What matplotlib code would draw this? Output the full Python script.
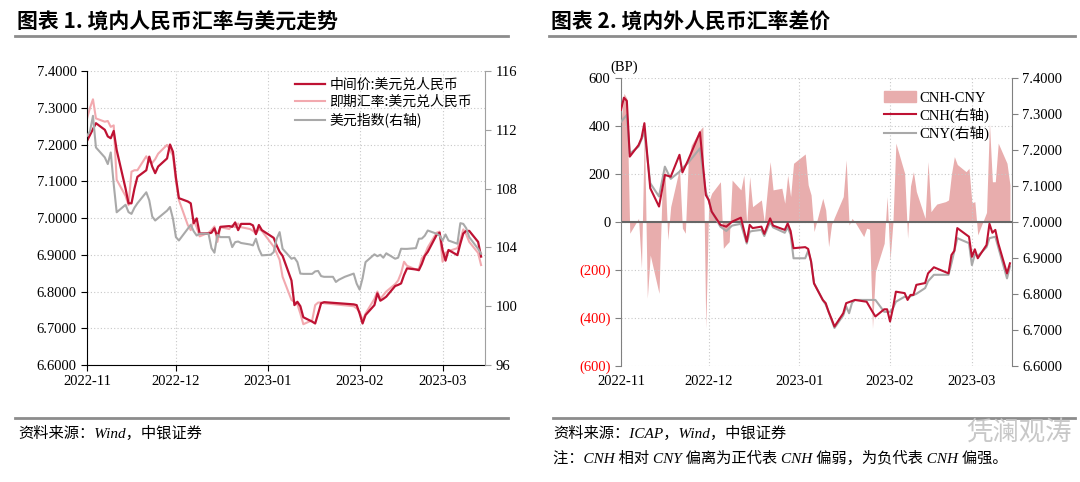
import pandas as pd
import matplotlib
matplotlib.use("Agg")
import matplotlib.pyplot as plt
import matplotlib.dates as mdates
from matplotlib.lines import Line2D
from matplotlib.patches import Patch

plt.rcParams['font.family'] = ['Liberation Serif', 'Noto Sans CJK SC']
plt.rcParams['axes.unicode_minus'] = False

# ---------- 图表1 数据 ----------
mid_dates = ["2022-11-01", "2022-11-04", "2022-11-07", "2022-11-08", "2022-11-09", "2022-11-10",
             "2022-11-11", "2022-11-14", "2022-11-15", "2022-11-16", "2022-11-17", "2022-11-18",
             "2022-11-21", "2022-11-22", "2022-11-23", "2022-11-24", "2022-11-25", "2022-11-28",
             "2022-11-29", "2022-11-30", "2022-12-01", "2022-12-02", "2022-12-05", "2022-12-06",
             "2022-12-07", "2022-12-08", "2022-12-09", "2022-12-12", "2022-12-13", "2022-12-14",
             "2022-12-15", "2022-12-16", "2022-12-19", "2022-12-20", "2022-12-21", "2022-12-22",
             "2022-12-23", "2022-12-26", "2022-12-27", "2022-12-28", "2022-12-29", "2022-12-30",
             "2023-01-03", "2023-01-04", "2023-01-05", "2023-01-06", "2023-01-09", "2023-01-10",
             "2023-01-11", "2023-01-12", "2023-01-13", "2023-01-16", "2023-01-17", "2023-01-18",
             "2023-01-19", "2023-01-20", "2023-01-30", "2023-01-31", "2023-02-01", "2023-02-02",
             "2023-02-03", "2023-02-06", "2023-02-07", "2023-02-08", "2023-02-09", "2023-02-10",
             "2023-02-13", "2023-02-14", "2023-02-15", "2023-02-16", "2023-02-17", "2023-02-20",
             "2023-02-21", "2023-02-22", "2023-02-23", "2023-02-24", "2023-02-27", "2023-02-28",
             "2023-03-01", "2023-03-02", "2023-03-03", "2023-03-06", "2023-03-07", "2023-03-08",
             "2023-03-09", "2023-03-10", "2023-03-13", "2023-03-14"]
mid_vals = [7.210, 7.258, 7.240, 7.222, 7.217, 7.237,
            7.185, 7.080, 7.040, 7.040, 7.080, 7.112,
            7.130, 7.167, 7.140, 7.122, 7.140, 7.162,
            7.200, 7.180, 7.110, 7.054, 7.045, 7.040,
            6.986, 6.999, 6.958, 6.958, 6.960, 6.972,
            6.949, 6.976, 6.978, 6.976, 6.988, 6.967,
            6.984, 6.984, 6.980, 6.956, 6.981, 6.967,
            6.946, 6.925, 6.908, 6.897, 6.830, 6.763,
            6.772, 6.760, 6.730, 6.718, 6.713, 6.740,
            6.768, 6.771, 6.765, 6.763, 6.740, 6.713,
            6.736, 6.763, 6.795, 6.775, 6.780, 6.786,
            6.815, 6.818, 6.822, 6.845, 6.863, 6.860,
            6.858, 6.875, 6.897, 6.908, 6.954, 6.960,
            6.913, 6.884, 6.913, 6.899, 6.930, 6.958,
            6.965, 6.965, 6.935, 6.895]

spot_dates = ["2022-11-01", "2022-11-02", "2022-11-03", "2022-11-04", "2022-11-07", "2022-11-08",
              "2022-11-09", "2022-11-10", "2022-11-11", "2022-11-14", "2022-11-15", "2022-11-16",
              "2022-11-17", "2022-11-18", "2022-11-21", "2022-11-22", "2022-11-23", "2022-11-24",
              "2022-11-25", "2022-11-28", "2022-11-29", "2022-11-30", "2022-12-01", "2022-12-02",
              "2022-12-05", "2022-12-06", "2022-12-07", "2022-12-08", "2022-12-09", "2022-12-12",
              "2022-12-13", "2022-12-14", "2022-12-15", "2022-12-16", "2022-12-19", "2022-12-20",
              "2022-12-21", "2022-12-22", "2022-12-23", "2022-12-26", "2022-12-27", "2022-12-28",
              "2022-12-29", "2022-12-30", "2023-01-03", "2023-01-04", "2023-01-05", "2023-01-06",
              "2023-01-09", "2023-01-10", "2023-01-11", "2023-01-12", "2023-01-13", "2023-01-16",
              "2023-01-17", "2023-01-18", "2023-01-19", "2023-01-20", "2023-01-30", "2023-01-31",
              "2023-02-01", "2023-02-02", "2023-02-03", "2023-02-06", "2023-02-07", "2023-02-08",
              "2023-02-09", "2023-02-10", "2023-02-13", "2023-02-14", "2023-02-15", "2023-02-16",
              "2023-02-17", "2023-02-20", "2023-02-21", "2023-02-22", "2023-02-23", "2023-02-24",
              "2023-02-27", "2023-02-28", "2023-03-01", "2023-03-02", "2023-03-03", "2023-03-06",
              "2023-03-07", "2023-03-08", "2023-03-09", "2023-03-10", "2023-03-13", "2023-03-14"]
spot_vals = [7.271, 7.300, 7.323, 7.271, 7.262, 7.264,
             7.248, 7.252, 7.104, 7.060, 7.035, 7.126,
             7.130, 7.130, 7.168, 7.153, 7.150, 7.160,
             7.175, 7.199, 7.185, 7.170, 7.100, 7.049,
             6.981, 6.967, 6.993, 6.975, 6.950, 6.960,
             6.967, 6.977, 6.935, 6.975, 6.970, 6.980,
             6.975, 6.985, 6.975, 6.970, 6.965, 6.958,
             6.970, 6.965, 6.922, 6.905, 6.886, 6.840,
             6.777, 6.772, 6.765, 6.740, 6.711, 6.722,
             6.763, 6.770, 6.770, 6.768, 6.760, 6.754,
             6.745, 6.722, 6.740, 6.780, 6.800, 6.780,
             6.790, 6.800, 6.820, 6.830, 6.850, 6.881,
             6.870, 6.860, 6.862, 6.890, 6.900, 6.920,
             6.960, 6.963, 6.881, 6.905, 6.910, 6.918,
             6.940, 6.969, 6.955, 6.935, 6.905, 6.872]

dxy_dates = ["2022-11-01", "2022-11-02", "2022-11-03", "2022-11-04", "2022-11-07", "2022-11-08",
             "2022-11-09", "2022-11-10", "2022-11-11", "2022-11-14", "2022-11-15", "2022-11-16",
             "2022-11-17", "2022-11-18", "2022-11-21", "2022-11-22", "2022-11-23", "2022-11-24",
             "2022-11-25", "2022-11-28", "2022-11-29", "2022-11-30", "2022-12-01", "2022-12-02",
             "2022-12-05", "2022-12-06", "2022-12-07", "2022-12-08", "2022-12-09", "2022-12-12",
             "2022-12-13", "2022-12-14", "2022-12-15", "2022-12-16", "2022-12-19", "2022-12-20",
             "2022-12-21", "2022-12-22", "2022-12-23", "2022-12-26", "2022-12-27", "2022-12-28",
             "2022-12-29", "2022-12-30", "2023-01-02", "2023-01-03", "2023-01-04", "2023-01-05",
             "2023-01-06", "2023-01-09", "2023-01-10", "2023-01-11", "2023-01-12", "2023-01-13",
             "2023-01-16", "2023-01-17", "2023-01-18", "2023-01-19", "2023-01-20", "2023-01-23",
             "2023-01-24", "2023-01-25", "2023-01-26", "2023-01-27", "2023-01-30", "2023-01-31",
             "2023-02-01", "2023-02-02", "2023-02-03", "2023-02-06", "2023-02-07", "2023-02-08",
             "2023-02-09", "2023-02-10", "2023-02-13", "2023-02-14", "2023-02-15", "2023-02-16",
             "2023-02-17", "2023-02-20", "2023-02-21", "2023-02-22", "2023-02-23", "2023-02-24",
             "2023-02-27", "2023-02-28", "2023-03-01", "2023-03-02", "2023-03-03", "2023-03-06",
             "2023-03-07", "2023-03-08", "2023-03-09", "2023-03-10", "2023-03-13", "2023-03-14"]
dxy_vals = [111.59, 111.90, 112.95, 110.80, 110.12, 109.67,
            110.46, 108.30, 106.39, 106.90, 106.40, 106.28,
            106.70, 107.00, 107.75, 107.20, 106.10, 105.83,
            106.00, 106.50, 106.75, 105.95, 104.70, 104.47,
            105.27, 105.54, 105.10, 104.81, 104.93, 104.93,
            103.95, 103.64, 104.86, 104.70, 104.70, 104.02,
            104.36, 104.40, 104.30, 104.20, 104.14, 104.59,
            103.90, 103.46, 103.50, 103.68, 104.59, 105.04,
            103.91, 103.23, 103.30, 103.00, 102.22, 102.20,
            102.20, 102.37, 102.40, 102.05, 102.00, 102.00,
            101.65, 101.80, 101.90, 102.00, 102.22, 101.54,
            101.13, 101.90, 103.00, 103.53, 103.40, 103.50,
            103.30, 103.60, 103.23, 103.30, 103.91, 103.90,
            103.90, 103.95, 104.59, 104.60, 104.80, 105.15,
            104.93, 104.80, 104.47, 104.88, 104.47, 104.25,
            105.65, 105.60, 105.30, 104.70, 103.90, 103.57]

# ---------- 图表2 数据 ----------
diff_dates = ["2022-11-01", "2022-11-02", "2022-11-03", "2022-11-04", "2022-11-07", "2022-11-08",
              "2022-11-09", "2022-11-10", "2022-11-11", "2022-11-14", "2022-11-15", "2022-11-16",
              "2022-11-17", "2022-11-18", "2022-11-21", "2022-11-22", "2022-11-23", "2022-11-24",
              "2022-11-25", "2022-11-28", "2022-11-29", "2022-11-30", "2022-12-01", "2022-12-02",
              "2022-12-05", "2022-12-06", "2022-12-07", "2022-12-08", "2022-12-09", "2022-12-12",
              "2022-12-13", "2022-12-14", "2022-12-15", "2022-12-16", "2022-12-19", "2022-12-20",
              "2022-12-21", "2022-12-22", "2022-12-23", "2022-12-26", "2022-12-27", "2022-12-28",
              "2022-12-29", "2022-12-30", "2023-01-03", "2023-01-04", "2023-01-05", "2023-01-06",
              "2023-01-09", "2023-01-10", "2023-01-11", "2023-01-12", "2023-01-13", "2023-01-16",
              "2023-01-17", "2023-01-18", "2023-01-19", "2023-01-20", "2023-01-23", "2023-01-24",
              "2023-01-25", "2023-01-26", "2023-01-27", "2023-01-30", "2023-01-31", "2023-02-01",
              "2023-02-02", "2023-02-03", "2023-02-06", "2023-02-07", "2023-02-08", "2023-02-09",
              "2023-02-10", "2023-02-13", "2023-02-14", "2023-02-15", "2023-02-16", "2023-02-17",
              "2023-02-20", "2023-02-21", "2023-02-22", "2023-02-23", "2023-02-24", "2023-02-27",
              "2023-02-28", "2023-03-01", "2023-03-02", "2023-03-03", "2023-03-06", "2023-03-07",
              "2023-03-08", "2023-03-09", "2023-03-10", "2023-03-13", "2023-03-14"]
diff_vals = [419, 537, 516, -47, 15, -193,
             405, -318, -138, -298, 113, 224,
             -75, 64, 224, -26, -47, 252,
             320, 384, 398, -444, 85, 120,
             168, -110, -95, -82, 175, 134,
             196, -10, 189, 64, 92, 0,
             130, 252, 134, 141, 78, 196,
             106, 245, 284, 155, 113, -40,
             99, 50, -103, -10, 20, 106,
             259, -13, 15, 0, -61, -26,
             -30, -444, -207, -89, 106, -159,
             0, 329, 203, -68, 150, 210,
             127, 15, 252, 43, 60, 75,
             85, 92, 200, 273, 240, 210,
             224, 80, 85, -54, 40, 412,
             168, 168, 329, 245, 155]

cnh_dates = ["2022-11-01", "2022-11-02", "2022-11-03", "2022-11-04", "2022-11-07", "2022-11-08",
             "2022-11-09", "2022-11-11", "2022-11-14", "2022-11-16", "2022-11-18", "2022-11-21",
             "2022-11-22", "2022-11-24", "2022-11-28", "2022-11-30", "2022-12-01", "2022-12-02",
             "2022-12-05", "2022-12-07", "2022-12-09", "2022-12-12", "2022-12-14", "2022-12-15",
             "2022-12-16", "2022-12-19", "2022-12-20", "2022-12-22", "2022-12-23", "2022-12-27",
             "2022-12-28", "2022-12-29", "2022-12-30", "2023-01-03", "2023-01-04", "2023-01-05",
             "2023-01-06", "2023-01-09", "2023-01-10", "2023-01-11", "2023-01-12", "2023-01-13",
             "2023-01-16", "2023-01-17", "2023-01-20", "2023-01-24", "2023-01-26", "2023-01-27",
             "2023-01-30", "2023-01-31", "2023-02-01", "2023-02-02", "2023-02-03", "2023-02-06",
             "2023-02-07", "2023-02-08", "2023-02-09", "2023-02-10", "2023-02-13", "2023-02-14",
             "2023-02-16", "2023-02-21", "2023-02-22", "2023-02-23", "2023-02-24", "2023-02-28",
             "2023-03-01", "2023-03-02", "2023-03-03", "2023-03-06", "2023-03-07", "2023-03-08",
             "2023-03-09", "2023-03-10", "2023-03-13", "2023-03-14"]
cnh_vals = [7.312, 7.346, 7.337, 7.182, 7.214, 7.233,
            7.275, 7.094, 7.043, 7.131, 7.126, 7.187,
            7.138, 7.173, 7.250, 7.075, 7.061, 7.029,
            6.992, 6.987, 7.001, 7.012, 6.945, 6.992,
            6.983, 6.987, 6.967, 7.010, 6.990, 6.978,
            6.996, 6.975, 6.927, 6.930, 6.925, 6.890,
            6.829, 6.783, 6.774, 6.750, 6.730, 6.709,
            6.746, 6.774, 6.783, 6.778, 6.750, 6.737,
            6.757, 6.757, 6.723, 6.760, 6.806, 6.802,
            6.783, 6.797, 6.797, 6.825, 6.830, 6.857,
            6.874, 6.857, 6.908, 6.920, 6.983, 6.959,
            6.903, 6.924, 6.899, 6.936, 6.995, 6.970,
            6.978, 6.941, 6.857, 6.885]

cny_dates = ["2022-11-01", "2022-11-03", "2022-11-04", "2022-11-07", "2022-11-08", "2022-11-09",
             "2022-11-11", "2022-11-14", "2022-11-16", "2022-11-18", "2022-11-21", "2022-11-22",
             "2022-11-24", "2022-11-28", "2022-11-30", "2022-12-01", "2022-12-02", "2022-12-05",
             "2022-12-07", "2022-12-09", "2022-12-12", "2022-12-14", "2022-12-15", "2022-12-16",
             "2022-12-19", "2022-12-20", "2022-12-22", "2022-12-23", "2022-12-27", "2022-12-28",
             "2022-12-29", "2022-12-30", "2023-01-03", "2023-01-04", "2023-01-05", "2023-01-06",
             "2023-01-09", "2023-01-10", "2023-01-11", "2023-01-13", "2023-01-16", "2023-01-17",
             "2023-01-18", "2023-01-19", "2023-01-20", "2023-01-27", "2023-01-30", "2023-01-31",
             "2023-02-01", "2023-02-02", "2023-02-03", "2023-02-06", "2023-02-07", "2023-02-10",
             "2023-02-13", "2023-02-14", "2023-02-16", "2023-02-21", "2023-02-22", "2023-02-24",
             "2023-02-28", "2023-03-01", "2023-03-02", "2023-03-03", "2023-03-06", "2023-03-07",
             "2023-03-09", "2023-03-10", "2023-03-13", "2023-03-14"]
cny_vals = [7.279, 7.298, 7.190, 7.210, 7.230, 7.251,
            7.108, 7.071, 7.154, 7.120, 7.140, 7.150,
            7.165, 7.205, 7.084, 7.060, 7.029, 6.987,
            6.975, 6.990, 6.995, 6.940, 6.973, 6.975,
            6.978, 6.961, 7.000, 6.985, 6.970, 6.985,
            6.965, 6.899, 6.899, 6.920, 6.890, 6.830,
            6.783, 6.770, 6.750, 6.705, 6.740, 6.765,
            6.746, 6.775, 6.783, 6.783, 6.750, 6.750,
            6.750, 6.760, 6.778, 6.792, 6.790, 6.800,
            6.816, 6.835, 6.853, 6.853, 6.885, 6.955,
            6.941, 6.880, 6.910, 6.905, 6.930, 6.955,
            6.959, 6.930, 6.843, 6.876]

left_ticks2 = [600, 400, 200, 0, -200, -400, -600]
left_labels2 = ["600", "400", "200", "0", "(200)", "(400)", "(600)"]
rate_ticks = [6.6, 6.7, 6.8, 6.9, 7.0, 7.1, 7.2, 7.3, 7.4]
dxy_ticks = [96, 100, 104, 108, 112, 116]

RED = "#BE1233"
PINK = "#F2A9AF"
GREY = "#A9A9A9"
AREA = "#E8ADAD"
CJK = ['Noto Sans CJK SC', 'Liberation Serif']
SERIF_CJK = ['Liberation Serif', 'Noto Sans CJK SC']

fig = plt.figure(figsize=(10.8, 4.82), dpi=100)


def style_dates(ax):
    ax.xaxis.set_major_locator(mdates.MonthLocator())
    ax.xaxis.set_major_formatter(mdates.DateFormatter("%Y-%m"))
    ax.grid(True, linestyle=(0, (1, 2)), color="#C8C8C8", linewidth=0.8)
    ax.spines["top"].set_visible(False)


# ---------- 图表1 ----------
ax1 = fig.add_axes([0.0806, 0.2427, 0.3685, 0.61])
ax1.plot(pd.to_datetime(spot_dates), spot_vals, color=PINK, lw=1.5)
ax1.plot(pd.to_datetime(mid_dates), mid_vals, color=RED, lw=1.6)
ax1.set_ylim(6.6, 7.4)
ax1.set_yticks(rate_ticks)
ax1.yaxis.set_major_formatter(plt.FuncFormatter(lambda v, p: f"{v:.4f}"))
ax1.set_xlim(pd.Timestamp("2022-11-01"), pd.Timestamp("2023-03-15 08:00"))
style_dates(ax1)
ax1.tick_params(labelsize=10.5, length=4)
ax1.spines["right"].set_visible(False)

ax1r = ax1.twinx()
ax1r.plot(pd.to_datetime(dxy_dates), dxy_vals, color=GREY, lw=1.5)
ax1r.set_ylim(96, 116)
ax1r.set_yticks(dxy_ticks)
ax1r.tick_params(labelsize=10.5, length=4, color="#A0A0A0")
ax1r.spines["top"].set_visible(False)
ax1r.spines["right"].set_color("#A0A0A0")
ax1r.spines["left"].set_visible(False)
ax1r.spines["bottom"].set_visible(False)

h1 = [Line2D([], [], color=RED, lw=1.6), Line2D([], [], color=PINK, lw=1.5),
      Line2D([], [], color=GREY, lw=1.5)]
ax1r.legend(h1, ["中间价:美元兑人民币", "即期汇率:美元兑人民币", "美元指数(右轴)"],
            loc="upper left", bbox_to_anchor=(0.49, 1.02), frameon=False,
            prop={'family': CJK, 'size': 10}, handlelength=2.2, labelspacing=0.25,
            handletextpad=0.3)

# ---------- 图表2 ----------
ax2 = fig.add_axes([0.575, 0.2413, 0.3617, 0.5963])
ax2.fill_between(pd.to_datetime(diff_dates), diff_vals, 0, color=AREA, lw=0)
ax2.axhline(0, color="#666666", lw=1.5)
ax2.set_ylim(-600, 600)
ax2.set_yticks(left_ticks2)
ax2.set_yticklabels(left_labels2)
for lab, v in zip(ax2.get_yticklabels(), left_ticks2):
    if v < 0:
        lab.set_color("#FF0000")
ax2.set_xlim(pd.Timestamp("2022-11-01"), pd.Timestamp("2023-03-14 14:00"))
style_dates(ax2)
ax2.spines["bottom"].set_visible(False)
ax2.spines["right"].set_visible(False)
ax2.spines["left"].set_color("#808080")
ax2.tick_params(axis="y", labelsize=10.5, length=4, color="#808080")
ax2.tick_params(axis="x", labelsize=10.5, length=0, pad=7)

ax2r = ax2.twinx()
ax2r.plot(pd.to_datetime(cny_dates), cny_vals, color=GREY, lw=1.5)
ax2r.plot(pd.to_datetime(cnh_dates), cnh_vals, color=RED, lw=1.5)
ax2r.set_ylim(6.6, 7.4)
ax2r.set_yticks(rate_ticks)
ax2r.yaxis.set_major_formatter(plt.FuncFormatter(lambda v, p: f"{v:.4f}"))
ax2r.tick_params(labelsize=10.5, length=4, color="#808080")
for s in ["top", "left", "bottom"]:
    ax2r.spines[s].set_visible(False)
ax2r.spines["right"].set_color("#808080")

h2 = [Patch(color=AREA), Line2D([], [], color=RED, lw=1.5), Line2D([], [], color=GREY, lw=1.5)]
ax2r.legend(h2, ["CNH-CNY", "CNH(右轴)", "CNY(右轴)"], loc="upper left",
            bbox_to_anchor=(0.64, 1.0), frameon=False, prop={'size': 10.5},
            handlelength=2.2, labelspacing=0.2, handletextpad=0.2)
fig.text(624 / 1080, 1 - 67 / 482, "(BP)", ha="center", va="center", fontsize=10.5)

# ---------- 标题与脚注 ----------
fig.text(17 / 1080, 1 - 22 / 482, "图表 1. 境内人民币汇率与美元走势", fontsize=15,
         fontweight="bold", va="center", family=CJK)
fig.text(551 / 1080, 1 - 22 / 482, "图表 2. 境内外人民币汇率差价", fontsize=15,
         fontweight="bold", va="center", family=CJK)
for x0, x1 in [(15, 508), (549, 1075)]:
    fig.add_artist(Line2D([x0 / 1080, x1 / 1080], [1 - 36 / 482] * 2, color="#8C8C8C", lw=2))
for x0, x1 in [(15, 508), (553, 1075)]:
    fig.add_artist(Line2D([x0 / 1080, x1 / 1080], [1 - 418 / 482] * 2, color="#8C8C8C", lw=2))

fig.text(18 / 1080, 1 - 433 / 482, "资料来源：Wind，中银证券", fontsize=11, style="italic",
         va="center", family=SERIF_CJK)
fig.text(553 / 1080, 1 - 433 / 482, "资料来源：ICAP，Wind，中银证券", fontsize=11, style="italic",
         va="center", family=SERIF_CJK)
fig.text(553 / 1080, 1 - 458 / 482, "注：CNH 相对 CNY 偏离为正代表 CNH 偏弱，为负代表 CNH 偏强。",
         fontsize=11, style="italic", va="center", family=SERIF_CJK)
fig.text(1072 / 1080, 1 - 433 / 482, "凭澜观涛", fontsize=19, color="#C8C8C8", ha="right",
         va="center", family=CJK)

fig.savefig("out.png", dpi=100)
